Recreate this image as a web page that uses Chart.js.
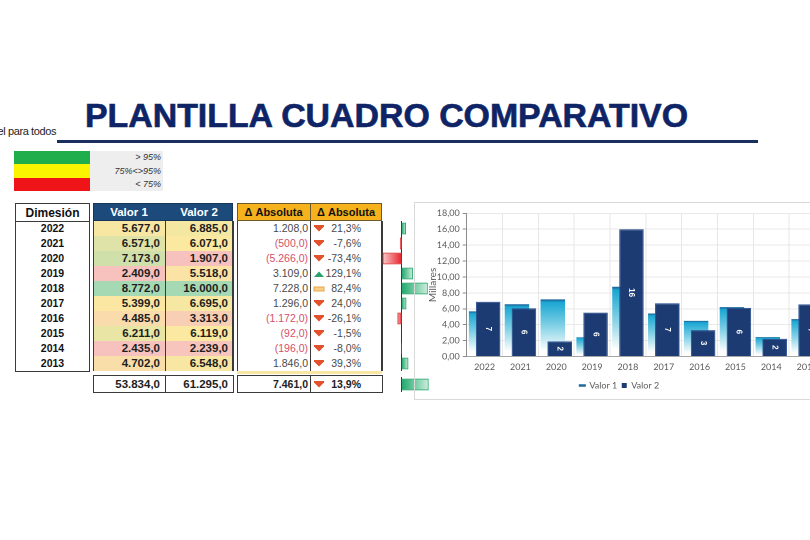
<!DOCTYPE html>
<html><head><meta charset="utf-8">
<script src="https://cdn.jsdelivr.net/npm/chart.js@4.4.1/dist/chart.umd.min.js"></script>
<style>
html,body{margin:0;padding:0;width:810px;height:540px;overflow:hidden;background:#fff;font-family:"Liberation Sans",Arial,sans-serif;}
#page{position:relative;width:810px;height:540px;overflow:hidden;}
.a{position:absolute;box-sizing:border-box;}
.hdr{display:flex;align-items:center;justify-content:center;font-weight:bold;font-size:11.5px;}
.row{position:absolute;left:0;right:0;height:15px;line-height:15px;}
.num{font-weight:bold;font-size:11.5px;color:#1e1e1e;text-align:right;padding-right:5px;box-sizing:border-box;position:absolute;top:0;height:15px;}
.dnum{font-size:10.5px;color:#4a4a4a;text-align:right;position:absolute;top:0;height:15px;}
.neg{color:#d4506c;}
</style></head><body>
<div id="page">
  <div class="a" id="brand" style="right:754px;top:125px;font-family:'Liberation Sans Narrow','Liberation Sans',sans-serif;font-size:11px;line-height:12px;color:#222;white-space:nowrap;letter-spacing:-0.4px;">Excel para todos</div>
  <div class="a" id="title" style="left:85px;top:99.8px;font-size:32.5px;line-height:32.5px;font-weight:bold;color:#0e2466;white-space:nowrap;transform-origin:0 0;-webkit-text-stroke:0.6px #0e2466;">PLANTILLA CUADRO COMPARATIVO</div>
  <div class="a" style="left:57px;top:140px;width:701px;height:3px;background:#1b2f5e;"></div>

  <div class="a" style="left:90px;top:151px;width:73px;height:40px;background:#eeeeee;"></div>
  <div class="a" style="left:14px;top:151px;width:76px;height:13px;background:#1fae4b;"></div>
  <div class="a" style="left:14px;top:164px;width:76px;height:14px;background:#fbf400;"></div>
  <div class="a" style="left:14px;top:178px;width:76px;height:13px;background:#ee1418;"></div>
  <div class="a" style="left:90px;top:151px;width:71px;font-size:9px;font-style:italic;color:#333;text-align:right;line-height:13.5px;">&gt; 95%<br>75%&lt;&gt;95%<br>&lt; 75%</div>

  <div id="tbl"></div>

  <canvas class="a" id="mini1" width="60" height="150" style="left:380px;top:221px;"></canvas>
  <canvas class="a" id="mini2" width="60" height="15" style="left:380px;top:377px;"></canvas>

  <div class="a" style="left:414px;top:202px;width:430px;height:198px;border:1px solid #d9d9d9;"></div>
  <canvas class="a" id="main" width="424" height="198" style="left:414px;top:202px;"></canvas>
</div>
<script>
// ---------- data ----------
const years = ['2022','2021','2020','2019','2018','2017','2016','2015','2014','2013'];
const valor1 = [5677, 6571, 7173, 2409, 8772, 5399, 4485, 6211, 2435, 4702];
const valor2 = [6885, 6071, 1907, 5518, 16000, 6695, 3313, 6119, 2239, 6548];
const deltaAbs = [1208, -500, -5266, 3109, 7228, 1296, -1172, -92, -196, 1846];
const deltaPct = [21.3, -7.6, -73.4, 129.1, 82.4, 24.0, -26.1, -1.5, -8.0, 39.3];
const deltaIcon = ['down','down','down','up','mid','down','down','down','down','down'];
const totalLabel = ['Total'];
const totalValor = [53834, 61295];
const totalAbs = [7461];
const totalPct = [13.9];
const seriesNames = ['Valor 1', 'Valor 2'];

// ---------- helpers ----------
function fmt(v, dec){
  const neg = v < 0; const s = Math.abs(v).toFixed(dec);
  let [ip, dp] = s.split('.');
  ip = ip.replace(/\B(?=(\d{3})+(?!\d))/g, '.');
  return (neg ? '-' : '') + ip + (dp !== undefined ? ',' + dp : '');
}
function mix(c1, c2, t){
  const p = c => [1,3,5].map(i => parseInt(c.substr(i,2),16));
  const a = p(c1), b = p(c2);
  return 'rgb(' + a.map((x,i) => Math.round(x + (b[i]-x)*t)).join(',') + ')';
}
function scaleColor(v, arr){
  const s = [...arr].sort((a,b)=>a-b);
  const min = s[0], max = s[s.length-1];
  const med = (s[(s.length-1)>>1] + s[s.length>>1]) / 2;
  const R = '#f7c2be', Y = '#fbe8a1', G = '#a5d9b3';
  if (v >= med) return mix(Y, G, (v-med)/(max-med));
  return mix(R, Y, (v-min)/(med-min));
}
function icon(kind){
  if (kind === 'up') return '<svg width="12" height="8" style="position:absolute;left:3px;top:4px"><polygon points="1,7 6,1.5 11,7" fill="#27a06e"/></svg>';
  if (kind === 'mid') return '<svg width="12" height="8" style="position:absolute;left:3px;top:4px"><rect x="1" y="2" width="10" height="4" fill="#f8cf86" stroke="#e8a64a" stroke-width="1"/></svg>';
  return '<svg width="12" height="8" style="position:absolute;left:3px;top:3px"><polygon points="1,1 11,1 11,2.5 6,7.5 1,2.5" fill="#e2512b"/></svg>';
}

// ---------- table ----------
(function(){
  let h = '';
  const B = '#3a3a3a';
  // Dimesion
  h += `<div class="a hdr" style="left:15px;top:203px;width:75px;height:19px;border:1.5px solid ${B};background:#fff;color:#111;font-size:12px;">Dimesión</div>`;
  h += `<div class="a" style="left:15px;top:220.5px;width:75px;height:151.5px;border:1.5px solid ${B};border-top:none;">`;
  years.forEach((y,i)=>{ h += `<div class="row" style="top:${i*15}px;text-align:center;font-weight:bold;font-size:10.5px;color:#111;">${y}</div>`; });
  h += `</div>`;
  // Valor header
  h += `<div class="a" style="left:93px;top:203px;width:140px;height:18px;background:#1b4a7b;border:1px solid #16365c;"></div>`;
  h += `<div class="a hdr" style="left:93px;top:203px;width:72px;height:18px;color:#fff;">${seriesNames[0]}</div>`;
  h += `<div class="a hdr" style="left:165px;top:203px;width:68px;height:18px;color:#fff;">${seriesNames[1]}</div>`;
  // Valor body
  h += `<div class="a" style="left:93px;top:221px;width:140px;height:150px;">`;
  years.forEach((y,i)=>{
    h += `<div class="num" style="left:0;width:72px;top:${i*15}px;line-height:15px;background:${scaleColor(valor1[i], valor1)};">${fmt(valor1[i],1)}</div>`;
    h += `<div class="num" style="left:72px;width:68px;top:${i*15}px;line-height:15px;background:${scaleColor(valor2[i], valor2)};">${fmt(valor2[i],1)}</div>`;
  });
  h += `</div>`;
  h += `<div class="a" style="left:92.5px;top:221px;width:1.5px;height:150px;background:${B};"></div>`;
  h += `<div class="a" style="left:164.5px;top:221px;width:1.2px;height:150px;background:${B};"></div>`;
  h += `<div class="a" style="left:232px;top:221px;width:1.5px;height:150px;background:${B};"></div>`;
  // Delta header
  h += `<div class="a" style="left:237px;top:203px;width:145px;height:18px;background:#f5b21d;border:1px solid #6b5a2a;"></div>`;
  h += `<div class="a" style="left:310px;top:203px;width:1px;height:18px;background:#6b5a2a;"></div>`;
  h += `<div class="a hdr" style="left:237px;top:203px;width:73px;height:18px;color:#111;font-size:11px;">Δ Absoluta</div>`;
  h += `<div class="a hdr" style="left:310px;top:203px;width:72px;height:18px;color:#111;font-size:11px;">Δ Absoluta</div>`;
  // Delta body
  h += `<div class="a" style="left:237px;top:221px;width:145px;height:150px;background:#fff;">`;
  years.forEach((y,i)=>{
    const v = deltaAbs[i];
    const txt = v < 0 ? '(' + fmt(-v,1) + ')' : fmt(v,1);
    h += `<div class="dnum ${v<0?'neg':''}" style="left:0;width:71px;top:${i*15}px;line-height:15px;">${txt}</div>`;
    h += `<div class="a" style="left:73px;top:${i*15}px;width:72px;height:15px;">${icon(deltaIcon[i])}<div class="dnum" style="right:21px;line-height:15px;">${fmt(deltaPct[i],1)}%</div></div>`;
  });
  h += `</div>`;
  h += `<div class="a" style="left:236.5px;top:221px;width:1.5px;height:150px;background:${B};"></div>`;
  h += `<div class="a" style="left:309.5px;top:221px;width:1.2px;height:150px;background:${B};"></div>`;
  h += `<div class="a" style="left:381px;top:221px;width:1.5px;height:150px;background:${B};"></div>`;
  h += `<div class="a" style="left:237px;top:371px;width:145px;height:3px;background:#f9e6a0;"></div>`;
  // Totals
  h += `<div class="a" style="left:93px;top:375px;width:140.5px;height:18px;border:1.5px solid ${B};"></div>`;
  h += `<div class="a" style="left:164.5px;top:375px;width:1.2px;height:18px;background:${B};"></div>`;
  h += `<div class="num" style="left:93px;width:72px;top:376.5px;line-height:15px;">${fmt(totalValor[0],1)}</div>`;
  h += `<div class="num" style="left:165px;width:68px;top:376.5px;line-height:15px;">${fmt(totalValor[1],1)}</div>`;
  h += `<div class="a" style="left:237px;top:375px;width:145.5px;height:18px;border:1.5px solid ${B};"></div>`;
  h += `<div class="a" style="left:309.5px;top:375px;width:1.2px;height:18px;background:${B};"></div>`;
  h += `<div class="dnum" style="left:237px;width:71px;top:376.5px;line-height:15px;font-weight:bold;color:#222;">${fmt(totalAbs[0],1)}</div>`;
  h += `<div class="a" style="left:310px;top:376.5px;width:72px;height:15px;">${icon('down')}<div class="dnum" style="right:21px;line-height:15px;font-weight:bold;color:#222;">${fmt(totalPct[0],1)}%</div></div>`;
  document.getElementById('tbl').innerHTML = h;

  // fit title width to reference
  const t = document.getElementById('title');
  const w = t.getBoundingClientRect().width;
  t.style.transform = 'scaleX(' + (603 / w) + ')';
})();

// ---------- main chart ----------
function v1Fill(c){
  const ch = c.chart, area = ch.chartArea;
  if (!area || c.type !== 'data' || !ch.scales.y) return '#2ab2d8';
  const ys = ch.scales.y;
  const top = ys.getPixelForValue(c.raw), base = ys.getPixelForValue(0);
  if (!isFinite(top) || !isFinite(base) || base - top < 1) return '#2ab2d8';
  const g = ch.ctx.createLinearGradient(0, top, 0, base);
  g.addColorStop(0, '#1c5c93');
  g.addColorStop(0.05, '#1ba7d3');
  g.addColorStop(0.45, '#7fd0e6');
  g.addColorStop(0.9, '#ffffff');
  g.addColorStop(1, '#ffffff');
  return g;
}
const barLabels = {
  id: 'barLabels',
  afterDatasetsDraw(chart){
    const meta = chart.getDatasetMeta(1), ctx = chart.ctx;
    ctx.save();
    ctx.fillStyle = '#ffffff';
    ctx.font = 'bold 8px "Liberation Sans", Arial, sans-serif';
    ctx.textAlign = 'center'; ctx.textBaseline = 'middle';
    meta.data.forEach((bar, i) => {
      const v = chart.data.datasets[1].data[i];
      ctx.save();
      ctx.translate(bar.x, (bar.y + bar.base) / 2);
      ctx.rotate(Math.PI / 2);
      ctx.fillText(String(Math.round(v)), 0, 0);
      ctx.restore();
    });
    ctx.restore();
  }
};
const tickFont = {family: 'Lato, "Liberation Sans", sans-serif', size: 9};
new Chart(document.getElementById('main'), {
  type: 'bar',
  data: {
    labels: years,
    datasets: [
      {label: seriesNames[0], data: valor1.map(v => v/1000), order: 1,
       backgroundColor: v1Fill, borderWidth: 0,
       categoryPercentage: -0.39, barPercentage: -3.5},
      {label: seriesNames[1], data: valor2.map(v => v/1000), order: 0,
       backgroundColor: '#1d3b73', borderColor: '#2b528f', borderWidth: 1,
       categoryPercentage: -0.39, barPercentage: -3.5}
    ]
  },
  options: {
    responsive: false, animation: false, devicePixelRatio: 2,
    layout: {padding: {left: 0, top: 11.3, right: 13, bottom: 0}},
    plugins: {
      tooltip: {enabled: false},
      legend: {
        position: 'bottom',
        labels: {
          font: tickFont, color: '#595959', usePointStyle: true, boxWidth: 5, boxHeight: 5, padding: 4.5,
          generateLabels: (chart) => [
            {text: seriesNames[0], pointStyle: 'line', strokeStyle: '#1f6a98', fillStyle: '#1f6a98', lineWidth: 2.5, datasetIndex: 0, fontColor: '#595959'},
            {text: seriesNames[1], pointStyle: 'rect', strokeStyle: '#1d3b73', fillStyle: '#1d3b73', lineWidth: 0, datasetIndex: 1, fontColor: '#595959'}
          ]
        }
      }
    },
    scales: {
      x: {
        grid: {offset: true, color: '#e6e6e6', drawTicks: false},
        border: {color: '#a6a6a6'},
        ticks: {font: tickFont, color: '#595959', padding: 5},
        afterFit: s => { s.height = 20; }
      },
      y: {
        min: 0, max: 18,
        ticks: {stepSize: 2, font: tickFont, color: '#595959', padding: 3,
                callback: v => v.toFixed(2).replace('.', ',')},
        grid: {color: '#e9e9e9', tickLength: 4, tickColor: '#8c8c8c'},
        border: {color: '#8c8c8c'},
        title: {display: true, text: 'Millares', color: '#595959',
                font: {family: 'Lato, "Liberation Sans", sans-serif', size: 10}, padding: {top: 13, bottom: 0}},
        afterFit: s => { s.width = 52.7; }
      }
    }
  },
  plugins: [barLabels]
});

// ---------- data-bar mini charts ----------
function miniFill(c){
  const ch = c.chart;
  if (!ch.chartArea || c.type !== 'data' || !ch.scales.x) return '#2bb07a';
  const xs = ch.scales.x;
  const x0 = xs.getPixelForValue(0), x1 = xs.getPixelForValue(c.raw);
  const g = ch.ctx.createLinearGradient(x0, 0, Math.abs(x1 - x0) < 1 ? x0 + (c.raw < 0 ? -1 : 1) : x1, 0);
  if (c.raw < 0) { g.addColorStop(0, '#e6232b'); g.addColorStop(1, '#f9c9c9'); }
  else { g.addColorStop(0, '#1ea96d'); g.addColorStop(1, '#cfeede'); }
  return g;
}
function miniChart(id, labels, values){
  return new Chart(document.getElementById(id), {
    type: 'bar',
    data: {labels, datasets: [{data: values, backgroundColor: miniFill,
      borderColor: c => c.raw < 0 ? '#de3a3a' : '#25a46c', borderWidth: 1,
      categoryPercentage: 1, barPercentage: 0.78}]},
    options: {
      indexAxis: 'y', responsive: false, animation: false, devicePixelRatio: 2,
      layout: {padding: 0},
      plugins: {legend: {display: false}, tooltip: {enabled: false}},
      scales: {
        x: {display: false, min: -6000, max: 10600},
        y: {display: true, position: {x: 0}, ticks: {display: false}, grid: {display: false},
            border: {display: true, color: '#333', width: 1, dash: [1, 1]}}
      }
    }
  });
}
miniChart('mini1', years, deltaAbs);
miniChart('mini2', totalLabel, totalAbs);
</script>
</body></html>
